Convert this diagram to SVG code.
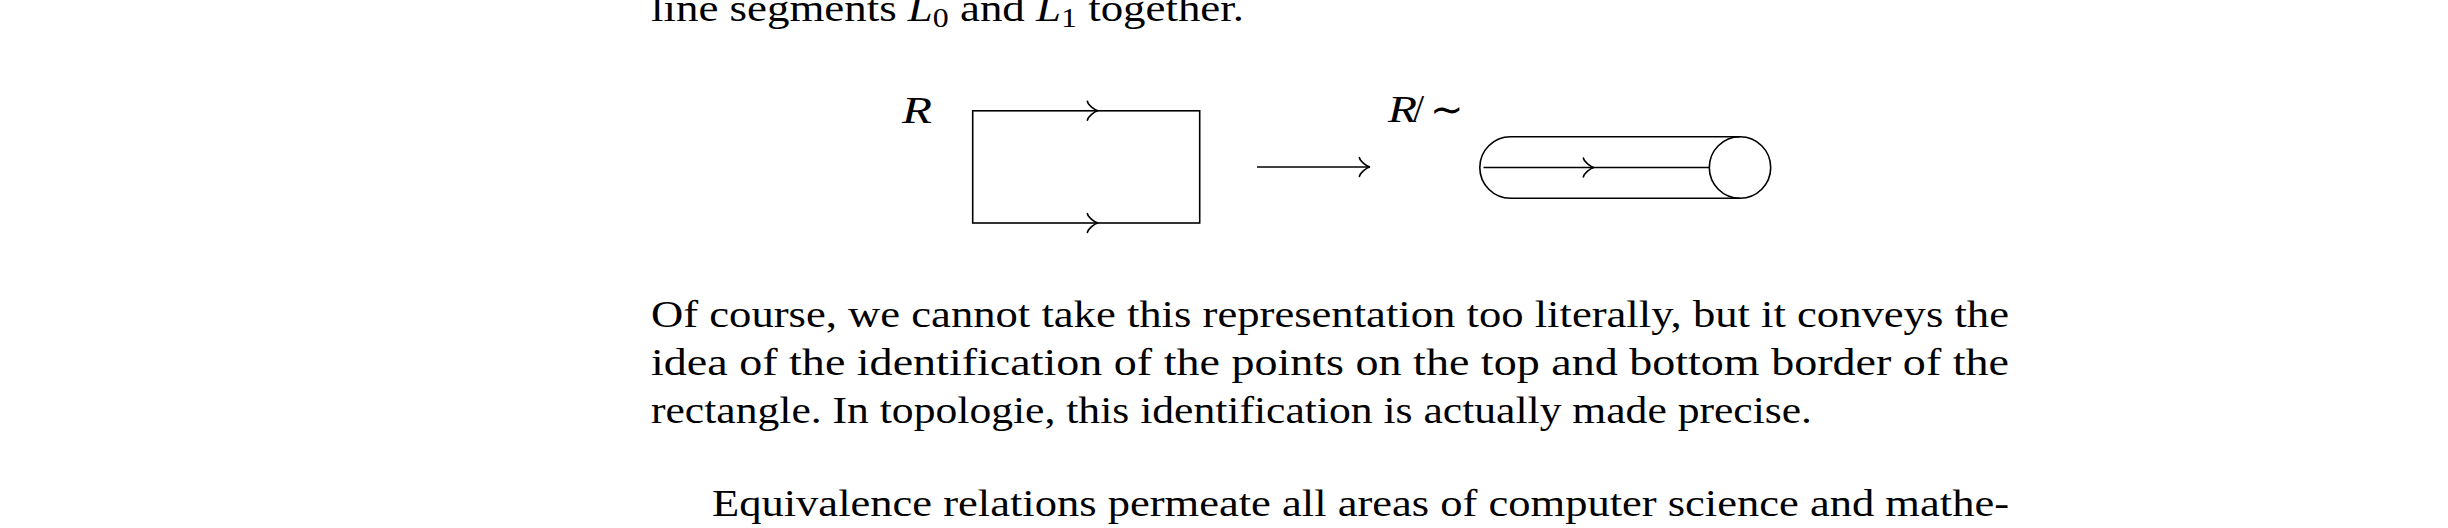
<svg xmlns="http://www.w3.org/2000/svg" width="2448" height="528" viewBox="0 0 2448 528">
<style>
.t{font-family:"Liberation Serif","Times New Roman",serif;font-size:38px;fill:#000}
.it{font-style:italic}
.sub{font-size:27px}
.ln{fill:none;stroke:#000;stroke-width:1.6}
</style>
<defs>
<path id="tip" d="M-10.6,-9.4 C-10,-5.9 -3.5,-0.6 0,0 C-3.5,0.6 -10,5.9 -10.6,9.4" fill="none" stroke="#000" stroke-width="1.6" stroke-linecap="round"/>
</defs>
<rect width="2448" height="528" fill="#fff"/>
<g id="text">
<text class="t" x="651" y="21" textLength="593" lengthAdjust="spacingAndGlyphs">line segments <tspan class="it">L</tspan><tspan class="sub" dy="6">0</tspan><tspan dy="-6"> and </tspan><tspan class="it">L</tspan><tspan class="sub" dy="6">1</tspan><tspan dy="-6"> together.</tspan></text>
<text class="t" x="651" y="327" textLength="1358" lengthAdjust="spacingAndGlyphs">Of course, we cannot take this representation too literally, but it conveys the</text>
<text class="t" x="651" y="375" textLength="1358" lengthAdjust="spacingAndGlyphs">idea of the identification of the points on the top and bottom border of the</text>
<text class="t" x="651" y="423" textLength="1161" lengthAdjust="spacingAndGlyphs">rectangle. In topologie, this identification is actually made precise.</text>
<text class="t" x="712" y="516" textLength="1297" lengthAdjust="spacingAndGlyphs">Equivalence relations permeate all areas of computer science and mathe-</text>
</g>
<g id="label-R">
<text class="t it" x="902" y="123.3" textLength="30" lengthAdjust="spacingAndGlyphs">R</text>
</g>
<g id="rectangle-R">
<rect class="ln" x="972.7" y="110.8" width="227" height="112.2"/>
<use href="#tip" x="1098" y="110.8"/>
<use href="#tip" x="1098" y="223"/>
</g>
<g id="label-Rsim">
<text class="t" y="121.5"><tspan class="it" x="1388" textLength="29" lengthAdjust="spacingAndGlyphs">R</tspan><tspan x="1413" font-size="40">/</tspan><tspan x="1430" y="123" font-family="'DejaVu Sans',sans-serif" font-size="40">∼</tspan></text>
</g>
<g id="cylinder">
<path class="ln" d="M1740,136.8 L1510.5,136.8 A30.7,30.7 0 0 0 1510.5,198.2 L1740,198.2"/>
<circle class="ln" cx="1740" cy="167.5" r="30.7"/>
<line class="ln" x1="1483.5" y1="167.5" x2="1709.3" y2="167.5"/>
<use href="#tip" x="1594" y="167.5"/>
</g>
<g id="connectors">
<line class="ln" x1="1257" y1="167" x2="1369" y2="167"/>
<use href="#tip" x="1370" y="167"/>
</g>
</svg>
